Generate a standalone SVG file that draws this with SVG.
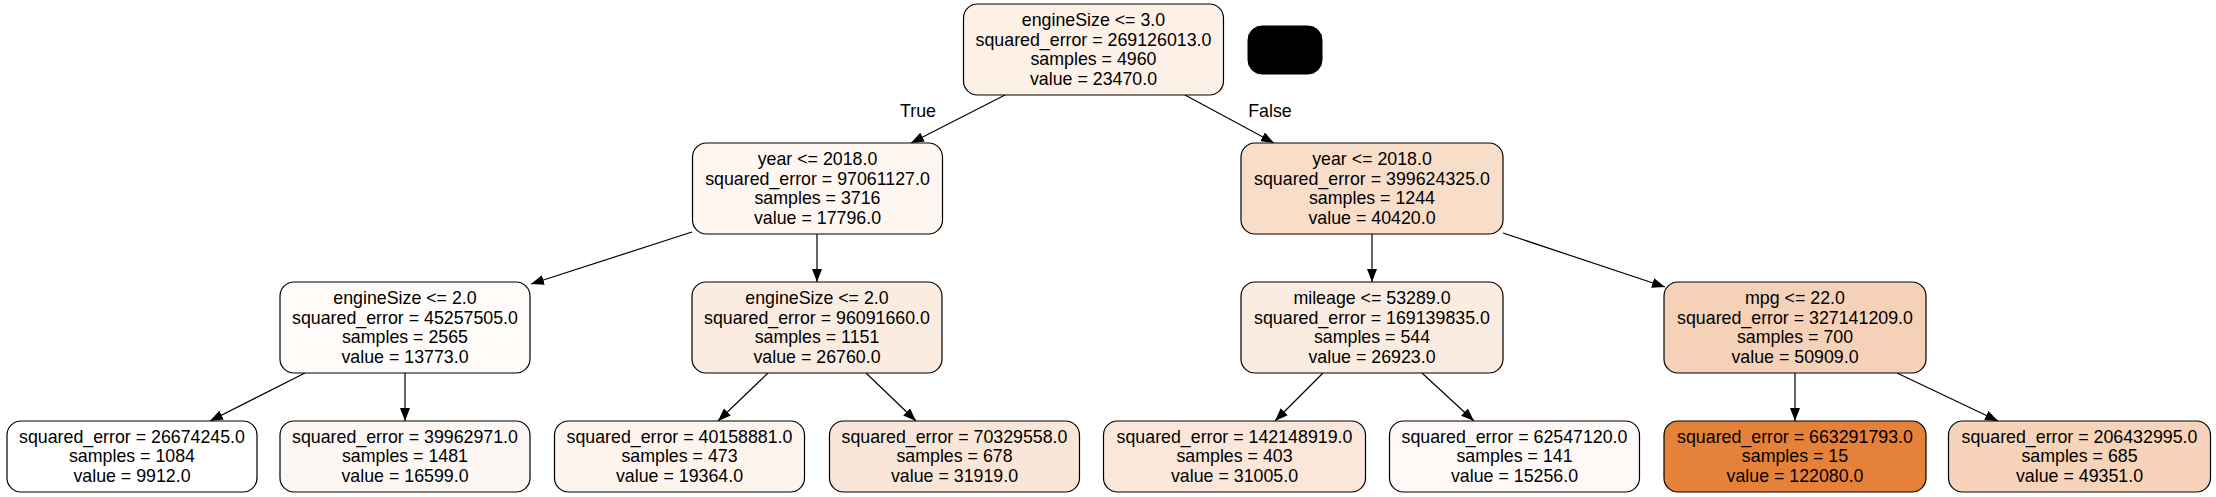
<svg xmlns="http://www.w3.org/2000/svg" width="2216" height="497" viewBox="0 0 2216 497">
<style>
.box{stroke:#000;stroke-width:1.2}
text{font-family:"Liberation Sans",Arial,Helvetica,sans-serif;font-size:17.8px;text-anchor:middle;fill:#000}
.e{stroke:#000;stroke-width:1.2;fill:none;marker-end:url(#ah)}
</style>
<defs>
<marker id="ah" markerWidth="13" markerHeight="10" refX="13" refY="5" orient="auto" markerUnits="userSpaceOnUse"><path d="M0,0 L13,5 L0,10 z" fill="#000"/></marker>
</defs>
<rect width="2216" height="497" fill="#fff"/>
<g id="edges">
<line class="e" x1="1005" y1="95" x2="911" y2="143"/>
<line class="e" x1="1185" y1="95" x2="1274" y2="143"/>
<line class="e" x1="692" y1="232" x2="531" y2="284"/>
<line class="e" x1="817" y1="234" x2="817" y2="282"/>
<line class="e" x1="1372" y1="234" x2="1372" y2="282"/>
<line class="e" x1="1503" y1="233" x2="1665" y2="287"/>
<line class="e" x1="305" y1="373" x2="210" y2="421"/>
<line class="e" x1="405" y1="373" x2="405" y2="421"/>
<line class="e" x1="768" y1="373" x2="718" y2="421"/>
<line class="e" x1="866" y1="373" x2="916" y2="421"/>
<line class="e" x1="1323" y1="373" x2="1275" y2="421"/>
<line class="e" x1="1422" y1="373" x2="1474" y2="421"/>
<line class="e" x1="1795" y1="373" x2="1795" y2="421"/>
<line class="e" x1="1897" y1="373" x2="1998" y2="421"/>
<text x="918" y="117">True</text>
<text x="1270" y="117">False</text>
</g>
<g id="legend"><rect x="1248" y="26" width="74" height="48" rx="14" fill="#000" stroke="#000"/></g>
<g id="n0"><rect class="box" x="963.5" y="4" width="260" height="91" rx="14" fill="#fcf0e7"/>
<text x="1093.5" y="26">engineSize &lt;= 3.0</text><text x="1093.5" y="45.7">squared_error = 269126013.0</text><text x="1093.5" y="65.4">samples = 4960</text><text x="1093.5" y="85.1">value = 23470.0</text></g>
<g id="n1"><rect class="box" x="692.5" y="143" width="250" height="91" rx="14" fill="#fdf6f1"/>
<text x="817.5" y="165">year &lt;= 2018.0</text><text x="817.5" y="184.7">squared_error = 97061127.0</text><text x="817.5" y="204.4">samples = 3716</text><text x="817.5" y="224.1">value = 17796.0</text></g>
<g id="n8"><rect class="box" x="1241" y="143" width="262" height="91" rx="14" fill="#f8ddc9"/>
<text x="1372" y="165">year &lt;= 2018.0</text><text x="1372" y="184.7">squared_error = 399624325.0</text><text x="1372" y="204.4">samples = 1244</text><text x="1372" y="224.1">value = 40420.0</text></g>
<g id="n2"><rect class="box" x="280" y="282" width="250" height="91" rx="14" fill="#fefbf8"/>
<text x="405" y="304">engineSize &lt;= 2.0</text><text x="405" y="323.7">squared_error = 45257505.0</text><text x="405" y="343.4">samples = 2565</text><text x="405" y="363.1">value = 13773.0</text></g>
<g id="n5"><rect class="box" x="692" y="282" width="250" height="91" rx="14" fill="#fbece1"/>
<text x="817" y="304">engineSize &lt;= 2.0</text><text x="817" y="323.7">squared_error = 96091660.0</text><text x="817" y="343.4">samples = 1151</text><text x="817" y="363.1">value = 26760.0</text></g>
<g id="n9"><rect class="box" x="1241" y="282" width="262" height="91" rx="14" fill="#fbece1"/>
<text x="1372" y="304">mileage &lt;= 53289.0</text><text x="1372" y="323.7">squared_error = 169139835.0</text><text x="1372" y="343.4">samples = 544</text><text x="1372" y="363.1">value = 26923.0</text></g>
<g id="n12"><rect class="box" x="1664" y="282" width="262" height="91" rx="14" fill="#f5d1b7"/>
<text x="1795" y="304">mpg &lt;= 22.0</text><text x="1795" y="323.7">squared_error = 327141209.0</text><text x="1795" y="343.4">samples = 700</text><text x="1795" y="363.1">value = 50909.0</text></g>
<g id="n3"><rect class="box" x="7" y="421" width="250" height="71" rx="14" fill="#ffffff"/>
<text x="132" y="442.5">squared_error = 26674245.0</text><text x="132" y="462.3">samples = 1084</text><text x="132" y="482.1">value = 9912.0</text></g>
<g id="n4"><rect class="box" x="280" y="421" width="250" height="71" rx="14" fill="#fdf7f3"/>
<text x="405" y="442.5">squared_error = 39962971.0</text><text x="405" y="462.3">samples = 1481</text><text x="405" y="482.1">value = 16599.0</text></g>
<g id="n6"><rect class="box" x="554.5" y="421" width="250" height="71" rx="14" fill="#fdf4ee"/>
<text x="679.5" y="442.5">squared_error = 40158881.0</text><text x="679.5" y="462.3">samples = 473</text><text x="679.5" y="482.1">value = 19364.0</text></g>
<g id="n7"><rect class="box" x="829.5" y="421" width="250" height="71" rx="14" fill="#fae6d8"/>
<text x="954.5" y="442.5">squared_error = 70329558.0</text><text x="954.5" y="462.3">samples = 678</text><text x="954.5" y="482.1">value = 31919.0</text></g>
<g id="n10"><rect class="box" x="1103.5" y="421" width="262" height="71" rx="14" fill="#fae7da"/>
<text x="1234.5" y="442.5">squared_error = 142148919.0</text><text x="1234.5" y="462.3">samples = 403</text><text x="1234.5" y="482.1">value = 31005.0</text></g>
<g id="n11"><rect class="box" x="1389.5" y="421" width="250" height="71" rx="14" fill="#fef9f6"/>
<text x="1514.5" y="442.5">squared_error = 62547120.0</text><text x="1514.5" y="462.3">samples = 141</text><text x="1514.5" y="482.1">value = 15256.0</text></g>
<g id="n13"><rect class="box" x="1664" y="421" width="262" height="71" rx="14" fill="#e58139"/>
<text x="1795" y="442.5">squared_error = 663291793.0</text><text x="1795" y="462.3">samples = 15</text><text x="1795" y="482.1">value = 122080.0</text></g>
<g id="n14"><rect class="box" x="1948.5" y="421" width="262" height="71" rx="14" fill="#f6d3b9"/>
<text x="2079.5" y="442.5">squared_error = 206432995.0</text><text x="2079.5" y="462.3">samples = 685</text><text x="2079.5" y="482.1">value = 49351.0</text></g>
</svg>
